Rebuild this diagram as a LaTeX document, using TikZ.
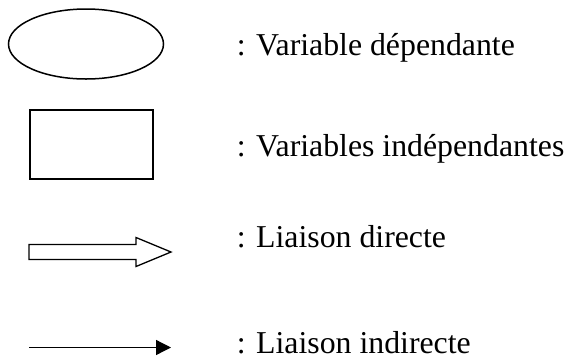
\documentclass[tikz,border=0pt]{standalone}
\usepackage{fontspec}
\setmainfont{Liberation Serif}
\usetikzlibrary{shapes.geometric, arrows.meta}
\tikzset{
  legtext/.style={anchor=base west, inner sep=0pt, font=\fontsize{31.8}{36}\selectfont},
}
\begin{document}
\begin{tikzpicture}[x=1pt, y=-1pt, line width=1.5pt]
\useasboundingbox (0, 0) rectangle (568, 360);
\node[draw, ellipse, minimum width=155, minimum height=70, inner sep=0pt](dep) at (86, 44) {};
\node[draw, rectangle, minimum width=123, minimum height=69, inner sep=0pt](indep) at (91.5, 144.5) {};
% double arrow
\draw[line width=1.3pt, line join=miter] (29, 244.5) -- (136, 244.5) -- (136, 237.5) -- (171, 252)
  -- (136, 266.5) -- (136, 259.5) -- (29, 259.5) -- cycle;
\coordinate(I0) at (29, 347.5);
\coordinate(I1) at (171, 347.5);
\draw[line width=1.3pt, -{Triangle[length=15pt, width=15pt]}] (I0) -- (I1);
\node[legtext](tdep) at (236, 55) {: Variable dépendante};
\node[legtext](tindep) at (236, 156) {: Variables indépendantes};
\node[legtext](tdir) at (236, 247) {: Liaison directe};
\node[legtext](tind) at (236, 353) {: Liaison indirecte};
\end{tikzpicture}
\end{document}
